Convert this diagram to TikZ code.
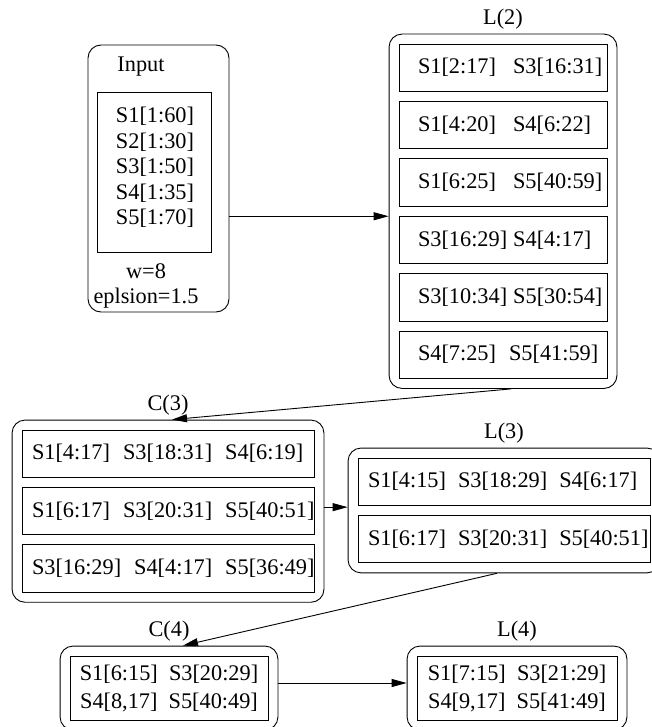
\documentclass[tikz,border=0pt]{standalone}
\usepackage{fontspec}
\setmainfont{Liberation Serif}
\usetikzlibrary{positioning,arrows.meta,fit}

\begin{document}
\begin{tikzpicture}[
  x=1pt, y=-1pt,
  font=\fontsize{22.3}{25.5}\selectfont,
  outer/.style={draw, rounded corners=13pt, line width=0.9pt, inner sep=9.5pt},
  cell/.style={draw, line width=0.9pt, inner ysep=0pt, minimum height=47.5pt, align=left},
  pair/.style={cell, text width=170pt, inner xsep=19pt},
  triple/.style={cell, text width=272pt, inner xsep=10pt},
  quad/.style={draw, line width=0.9pt, minimum height=64pt, align=center},
  title/.style={inner sep=0pt},
  arr/.style={-{Triangle[length=15pt,width=8pt]}, line width=0.9pt}
]
\useasboundingbox (0,0) rectangle (652,727);
\clip (0,0) rectangle (652,727);

\node[outer, inner sep=0pt, minimum width=141pt, minimum height=267pt] (inputbox) at (158.5,178.5) {};
\node[title] (inputlbl) at (141,67) {Input};
\node[draw, line width=0.9pt, minimum width=114pt, minimum height=160pt] (seqbox) at (154,172) {};
\node[align=center] (seqs) at (155,167.5) {S1[1:60]\\S2[1:30]\\S3[1:50]\\S4[1:35]\\S5[1:70]};
\node[align=center] (params) at (146,286) {w=8\\eplsion=1.5};

\node[pair] (l2a) at (503,67.75) {S1[2:17]\kern17pt S3[16:31]};
\node[pair, below=9pt of l2a] (l2b) {S1[4:20]\kern17pt S4[6:22]};
\node[pair, below=9pt of l2b] (l2c) {S1[6:25]\kern17pt S5[40:59]};
\node[pair, below=9pt of l2c] (l2d) {S3[16:29]\kern6pt S4[4:17]};
\node[pair, below=9pt of l2d] (l2e) {S3[10:34]\kern6pt S5[30:54]};
\node[pair, below=9pt of l2e] (l2f) {S4[7:25]\kern13pt S5[41:59]};
\node[outer, fit=(l2a)(l2f)] (l2box) {};
\node[title, above=4pt of l2box] (l2lbl) {L(2)};

\node[triple] (c3a) at (168,453.75) {S1[4:17]\kern13pt S3[18:31]\kern13pt S4[6:19]};
\node[triple, below=9pt of c3a] (c3b) {S1[6:17]\kern13pt S3[20:31]\kern13pt S5[40:51]};
\node[triple, below=9pt of c3b] (c3c) {S3[16:29]\kern13pt S4[4:17]\kern13pt S5[36:49]};
\node[outer, fit=(c3a)(c3c)] (c3box) {};
\node[title, above=4pt of c3box] (c3lbl) {C(3)};

\node[triple] (l3a) at (504,481.75) {S1[4:15]\kern12pt S3[18:29]\kern12pt S4[6:17]};
\node[triple, below=9pt of l3a] (l3b) {S1[6:17]\kern12pt S3[20:31]\kern12pt S5[40:51]};
\node[outer, fit=(l3a)(l3b)] (l3box) {};
\node[title, above=4pt of l3box] (l3lbl) {L(3)};

\node[quad, minimum width=198pt] (c4a) at (169,688) {S1[6:15]~~S3[20:29]\\[2.5pt]S4[8,17]~~S5[40:49]};
\node[outer, fit=(c4a)] (c4box) {};
\node[title, above=4pt of c4box] (c4lbl) {C(4)};

\node[quad, minimum width=200pt] (l4a) at (517,688) {S1[7:15]~~S3[21:29]\\[2.5pt]S4[9,17]~~S5[41:49]};
\node[outer, fit=(l4a)] (l4box) {};
\node[title, above=4pt of l4box] (l4lbl) {L(4)};

\draw[arr] ([yshift=-5pt]inputbox.east |- l2box.west) -- ([yshift=-5pt]l2box.west);
\draw[arr] ([xshift=8pt]l2box.south) -- ([xshift=4pt]c3box.north);
\draw[arr] ([yshift=4pt]c3box.east) -- ([yshift=4pt]c3box.east -| l3box.west);
\draw[arr] ([xshift=-7pt]l3box.south) -- ([xshift=14pt]c4box.north);
\draw[arr] ([yshift=5pt]c4box.east) -- ([yshift=5pt]c4box.east -| l4box.west);
\end{tikzpicture}
\end{document}
